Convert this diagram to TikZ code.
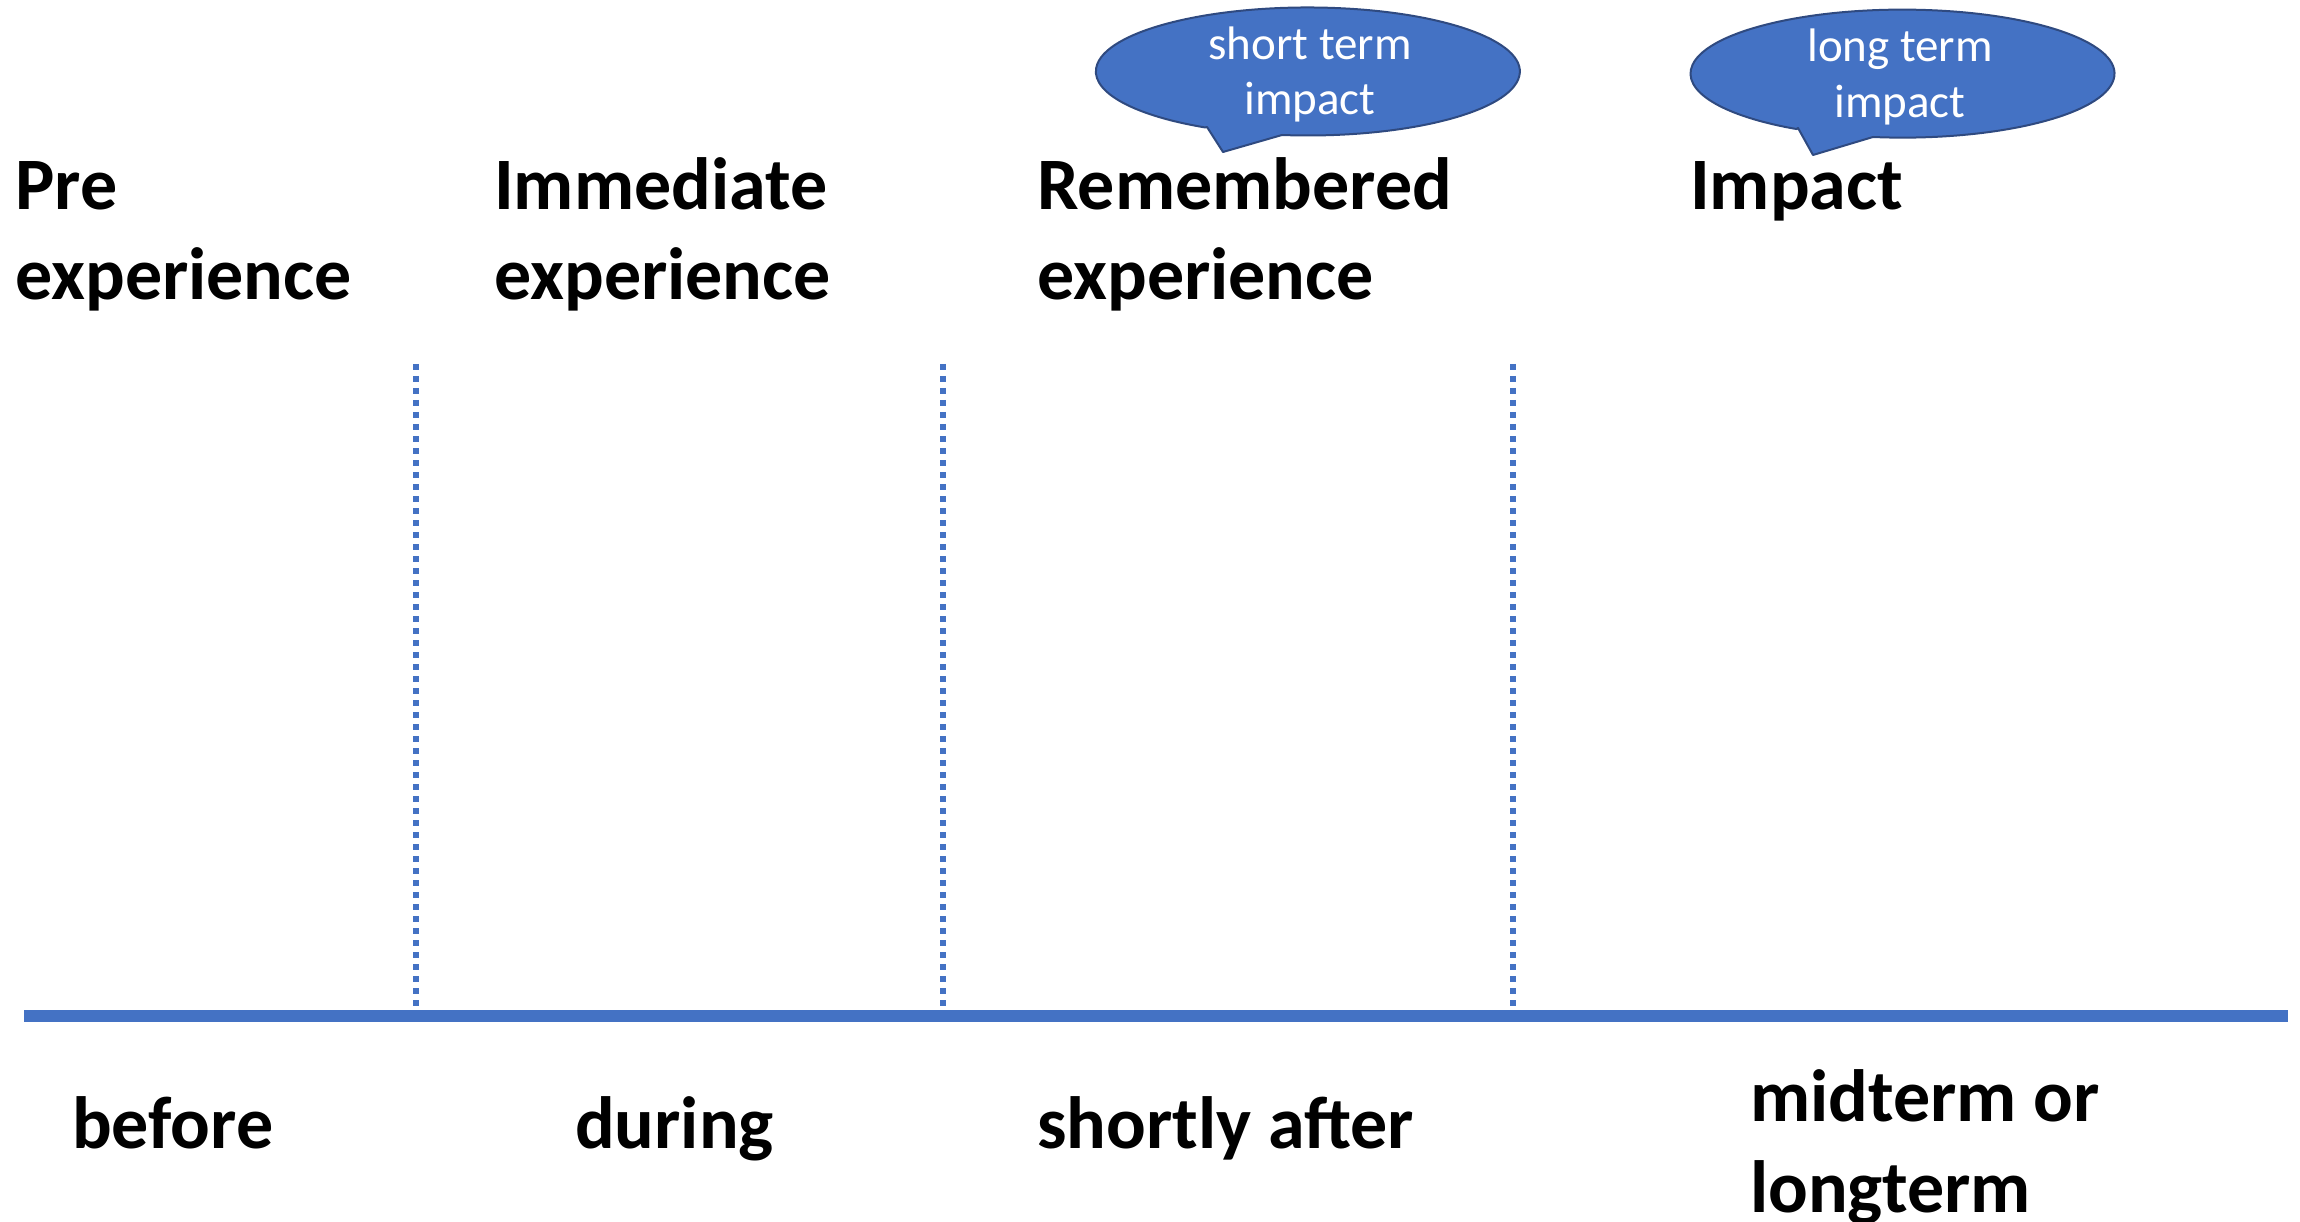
\documentclass[tikz,border=0pt]{standalone}
\usepackage{fontspec}
\setmainfont{Carlito}
\definecolor{accent}{HTML}{4472C4}
\definecolor{outline}{HTML}{2F4A80}
\begin{document}
\begin{tikzpicture}[x=1pt,y=1pt,
  heading/.style={anchor=base west,inner sep=0pt,font=\fontsize{74}{89}\selectfont\bfseries},
  calltext/.style={anchor=base,inner sep=0pt,text=white,font=\fontsize{47}{55}\selectfont},
  callout/.style={fill=accent,draw=outline,line width=2pt,line join=round},
  divider/.style={draw=accent,line width=6pt,dash pattern=on 6pt off 6pt},
  axisline/.style={draw=accent,line width=12pt}]
\useasboundingbox (0,0) rectangle (2300,-1222);

% callouts
\path[callout] (1207,-127) -- (1223,-152) -- (1282,-135)
  arc[start angle=263,end angle=601,x radius=212pt,y radius=64pt] -- cycle;
\node[calltext] (st1) at (1310,-60) {short term};
\node[calltext] (st2) at (1310,-115) {impact};

\path[callout] (1798,-128) -- (1813,-155) -- (1873,-137)
  arc[start angle=262,end angle=600,x radius=212pt,y radius=64pt] -- cycle;
\node[calltext] (lt1) at (1900,-62) {long term};
\node[calltext] (lt2) at (1900,-118) {impact};

% headings
\node[heading] (pre1) at (15,-210) {Pre};
\node[heading] (pre2) at (15,-300) {experience};
\node[heading] (imm1) at (494,-210) {Immediate};
\node[heading] (imm2) at (494,-300) {experience};
\node[heading] (rem1) at (1037,-210) {Remembered};
\node[heading] (rem2) at (1037,-300) {experience};
\node[heading] (imp1) at (1690,-210) {Impact};

% dividers
\coordinate (d1t) at (416,-364); \coordinate (d1b) at (416,-1010);
\coordinate (d2t) at (943,-364); \coordinate (d2b) at (943,-1010);
\coordinate (d3t) at (1513,-364); \coordinate (d3b) at (1513,-1010);
\draw[divider] (d1t) -- (d1b);
\draw[divider] (d2t) -- (d2b);
\draw[divider] (d3t) -- (d3b);

% time axis
\coordinate (axL) at (24,-1016);
\coordinate (axR) at (2288,-1016);
\draw[axisline] (axL) -- (axR);

% bottom labels
\node[heading] (before) at (72,-1148) {before};
\node[heading] (during) at (575,-1148) {during};
\node[heading] (shortly) at (1037,-1148) {shortly after};
\node[heading] (mid1) at (1750,-1121) {midterm or};
\node[heading] (mid2) at (1750,-1212) {longterm};
\end{tikzpicture}
\end{document}
